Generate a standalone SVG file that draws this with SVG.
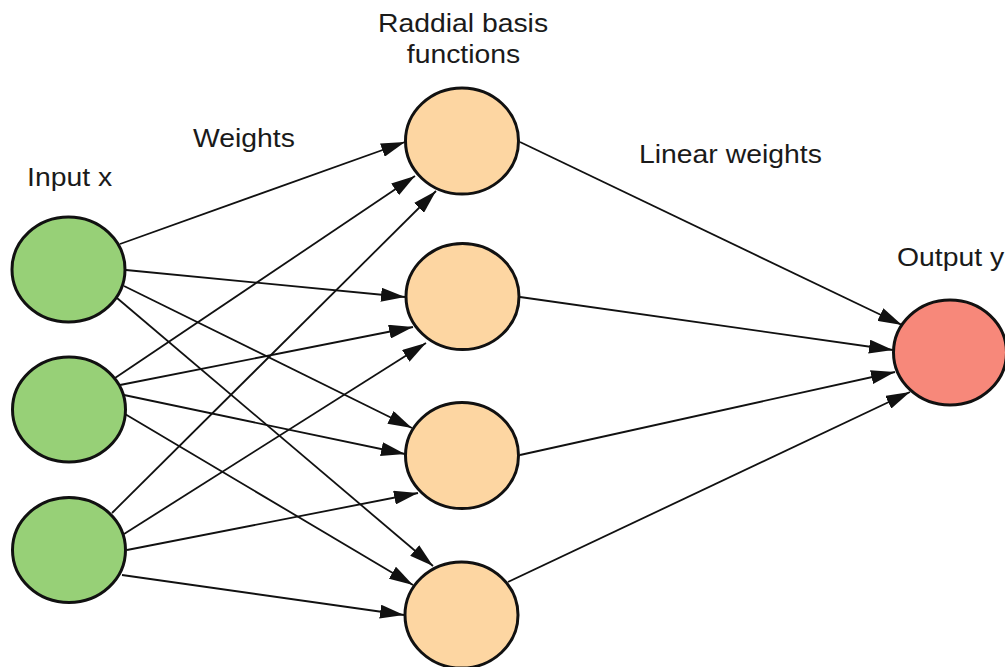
<svg xmlns="http://www.w3.org/2000/svg" width="1005" height="667" viewBox="0 0 1005 667">
  <style>
    .node { stroke: #111; stroke-width: 3; }
    .input { fill: #97d077; }
    .rbf { fill: #fdd6a2; }
    .output { fill: #f7887a; }
    .edge { stroke: #111; stroke-width: 1.8; fill: none; marker-end: url(#arrow); }
    .label { font-family: "Liberation Sans", Arial, sans-serif; font-size: 26.5px; fill: #1a1a1a; }
  </style>
  <defs>
    <marker id="arrow" markerUnits="userSpaceOnUse" markerWidth="24" markerHeight="14" refX="24" refY="7" orient="auto">
      <path d="M0,0 L24,7 L0,14 z" fill="#111"/>
    </marker>
  </defs>

  <rect width="1005" height="667" fill="#ffffff"/>

  <!-- labels -->
  <g id="labels">
    <text class="label" text-anchor="middle" transform="translate(463,32) scale(1.07,1)">Raddial basis</text>
    <text class="label" text-anchor="middle" transform="translate(463.5,63) scale(1.07,1)">functions</text>
    <text class="label" transform="translate(193,147) scale(1.07,1)">Weights</text>
    <text class="label" transform="translate(27,186) scale(1.07,1)">Input x</text>
    <text class="label" transform="translate(639,163) scale(1.07,1)">Linear weights</text>
    <text class="label" transform="translate(897,266) scale(1.07,1)">Output y</text>
  </g>

  <!-- input layer -->
  <g id="input1"><ellipse class="node input" cx="68.5" cy="269.5" rx="56.5" ry="52.5"/></g>
  <g id="input2"><ellipse class="node input" cx="69" cy="409.5" rx="56.5" ry="52.5"/></g>
  <g id="input3"><ellipse class="node input" cx="69" cy="550" rx="56.5" ry="52.5"/></g>

  <!-- radial basis layer -->
  <g id="rbf1"><ellipse class="node rbf" cx="462" cy="141" rx="56.5" ry="53"/></g>
  <g id="rbf2"><ellipse class="node rbf" cx="462.5" cy="296.5" rx="56.5" ry="53"/></g>
  <g id="rbf3"><ellipse class="node rbf" cx="462" cy="455.5" rx="56.5" ry="53"/></g>
  <g id="rbf4"><ellipse class="node rbf" cx="461.5" cy="615" rx="56.5" ry="53"/></g>

  <!-- output -->
  <g id="output"><ellipse class="node output" cx="950" cy="352.5" rx="56.5" ry="52.5"/></g>

  <!-- connectors -->
  <g id="connectors">
    <line class="edge" x1="120" y1="244" x2="405" y2="142"/>
    <line class="edge" x1="126" y1="270" x2="405" y2="297"/>
    <line class="edge" x1="124" y1="286" x2="412" y2="428"/>
    <line class="edge" x1="117" y1="298" x2="433" y2="566"/>

    <line class="edge" x1="115" y1="378" x2="415" y2="176"/>
    <line class="edge" x1="120" y1="385" x2="413" y2="327"/>
    <line class="edge" x1="124" y1="395" x2="405" y2="454"/>
    <line class="edge" x1="125" y1="414" x2="413" y2="585"/>

    <line class="edge" x1="112" y1="513" x2="436" y2="191"/>
    <line class="edge" x1="124" y1="534" x2="426" y2="343"/>
    <line class="edge" x1="127" y1="550" x2="418" y2="493"/>
    <line class="edge" x1="122" y1="575" x2="404" y2="615"/>

    <line class="edge" x1="520" y1="142" x2="902" y2="325"/>
    <line class="edge" x1="520" y1="297" x2="893" y2="350"/>
    <line class="edge" x1="520" y1="455" x2="895" y2="372"/>
    <line class="edge" x1="508" y1="582" x2="910" y2="392"/>
  </g>
</svg>
